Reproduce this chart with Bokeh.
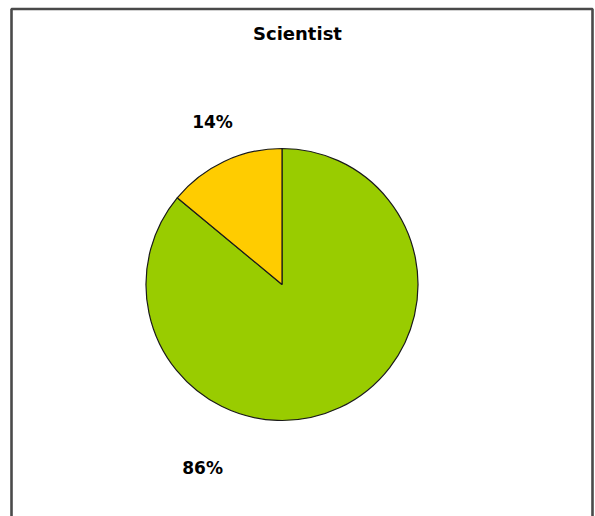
import math

from bokeh.core.properties import value
from bokeh.embed import file_html
from bokeh.models import ColumnDataSource, Range1d
from bokeh.plotting import figure
from bokeh.resources import INLINE

# Pie data
title_text = "Scientist"
shares = [86, 14]
slice_colors = ["#99CC00", "#FFCC00"]

W, H = 595, 516

# Frame fills the canvas; one data unit is one pixel (y grows upward)
p = figure(width=W, height=H, output_backend="svg", toolbar_location=None,
           x_range=Range1d(0, W), y_range=Range1d(0, H),
           min_border=0, tools="")
p.axis.visible = False
p.grid.visible = False
p.outline_line_color = None
p.background_fill_color = "white"
p.border_fill_color = "white"

# Chart-area border (open at the bottom, runs past the canvas)
p.quad(left=11, right=592, top=H - 8.5, bottom=-30,
       fill_color=None, line_color="#4a4a4a", line_width=2.6)

# Pie geometry
cx, cy, radius = 281.5, H - 284, 136
total = sum(shares)
starts, ends = [], []
angle = math.pi / 2
for s in shares:
    starts.append(angle)
    angle -= 2 * math.pi * s / total
    ends.append(angle)

src = ColumnDataSource(dict(start=starts, end=ends, color=slice_colors,
                            x=[cx] * len(shares), y=[cy] * len(shares)))
p.wedge(x="x", y="y", radius=radius, start_angle="start", end_angle="end",
        direction="clock", fill_color="color", line_color="#1a1a1a",
        line_width=1.2, source=src)

# Percentage labels, placed outside the pie
label_angles_deg = [246.6, 113.1]
label_dist = [200, 177]
lx = [cx + d * math.cos(math.radians(a)) for a, d in zip(label_angles_deg, label_dist)]
ly = [cy + d * math.sin(math.radians(a)) for a, d in zip(label_angles_deg, label_dist)]
labels = [f"{round(100 * s / total)}%" for s in shares]
p.text(x=lx, y=ly, text=labels, text_font=value("DejaVu Sans"),
       text_font_style="bold", text_font_size="17px", text_color="black",
       text_align="center", text_baseline="middle")

# Title
p.text(x=[297], y=[H - 33], text=[title_text], text_font=value("DejaVu Sans"),
       text_font_style="bold", text_font_size="18px", text_color="black",
       text_align="center", text_baseline="middle")

open("out.html", "w").write(file_html(p, INLINE))
